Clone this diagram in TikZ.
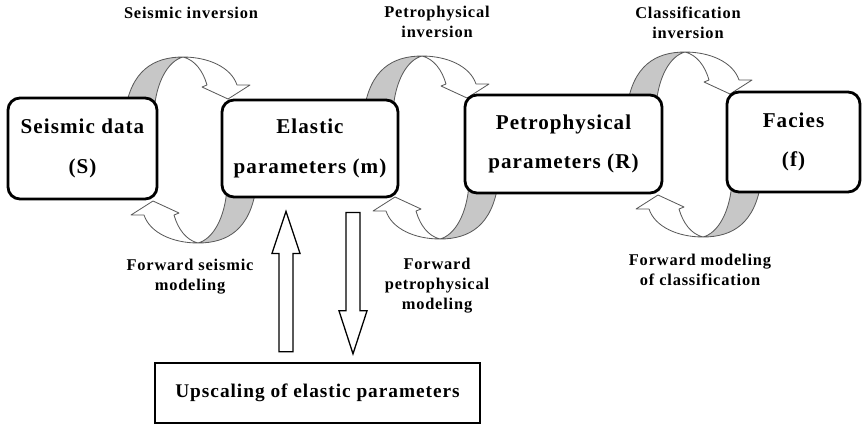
\documentclass[tikz,border=0pt]{standalone}
\usepackage{fontspec}
\setmainfont{Liberation Serif}
\newfontfamily\figfont[LetterSpace=5]{Liberation Serif}
\usetikzlibrary{calc}
\tikzset{
  box/.style={draw, line width=2.4pt, rounded corners=3.6mm, fill=white,
    align=center, font=\figfont\bfseries\fontsize{18}{34}\selectfont},
  lbl/.style={align=center, font=\figfont\bfseries\fontsize{14}{17}\selectfont},
  grayband/.style={draw=black!65, fill=black!22, line width=0.7pt, line join=round},
  whiteband/.style={draw=black!65, fill=white, line width=0.7pt, line join=round},
  hollowarrow/.style={draw, fill=white, line width=1.1pt}
}
% one half of a loop: gray crescent and hollow curved arrow
\newcommand*{\halfloop}[2]
  {\begin{scope}[shift={(#1)}, rotate=#2]
    \draw[grayband] (0,0) .. controls (-30,0) and (-52,14) .. (-58,55)
      -- (-29,55) .. controls (-27,25) and (-15,4) .. (0,0);
    \draw[whiteband] (0,0) .. controls (25,0) and (48,10) .. (54,28)
      -- (67,28) -- (45,42) -- (19,30) -- (24,28) .. controls (20,14) and (12,3) .. (0,0);
  \end{scope}}
% straight hollow arrow from foot to tip, #3 = signed head length
\newcommand*{\blockarrow}[3]
  {\draw[hollowarrow] ($(#1)+(-7,0)$) -- ($(#2)+(-7,#3)$) -- ($(#2)+(-14,#3)$) -- (#2)
    -- ($(#2)+(14,#3)$) -- ($(#2)+(7,#3)$) -- ($(#1)+(7,0)$) -- cycle}

\begin{document}
\begin{tikzpicture}[x=0.3mm,y=-0.3mm]
\useasboundingbox (0,0) rectangle (863,428);
% loops between the boxes
\foreach \tx/\ty/\bx/\by in {183/57/198/243,422/56/440/239,685/52/703/237} {
  \halfloop{\tx,\ty}{0}
  \halfloop{\bx,\by}{180}
}
% boxes
\node[box, minimum width=44.7mm, minimum height=30.3mm] (seis) at (82.5,148.5) {Seismic data\\(S)};
\node[box, minimum width=52.8mm, minimum height=29.1mm] (elastic) at (310,148.5) {Elastic\\parameters (m)};
\node[box, minimum width=59.1mm, minimum height=29.4mm] (petro) at (563.5,144) {Petrophysical\\parameters (R)};
\node[box, minimum width=39.9mm, minimum height=30mm] (facies) at (793.5,142) {Facies\\(f)};
\node[box, rounded corners=0pt, line width=2pt, minimum width=97.5mm, minimum height=18mm,
  font=\figfont\bfseries\fontsize{16.5}{20}\selectfont] (upscale) at (317.5,393) {Upscaling of elastic parameters};
% labels
\node[lbl] (seisinv) at (191,13) {Seismic inversion};
\node[lbl] (petroinv) at (437,22) {Petrophysical\\inversion};
\node[lbl] (classinv) at (688,23) {Classification\\inversion};
\node[lbl] (seisfwd) at (190,277) {Forward seismic\\modeling};
\node[lbl] (petrofwd) at (437,286) {Forward\\petrophysical\\modeling};
\node[lbl] (classfwd) at (700,270) {Forward modeling\\of classification};
% up and down arrows
\coordinate (uptip) at ($(elastic.south)+(-24,13)$);
\coordinate (upfoot) at ($(upscale.north)+(-31.5,-10)$);
\coordinate (downfoot) at ($(elastic.south)+(43,14)$);
\coordinate (downtip) at ($(upscale.north)+(35.5,-8)$);
\blockarrow{upfoot}{uptip}{42};
\blockarrow{downfoot}{downtip}{-43};
\end{tikzpicture}
\end{document}
